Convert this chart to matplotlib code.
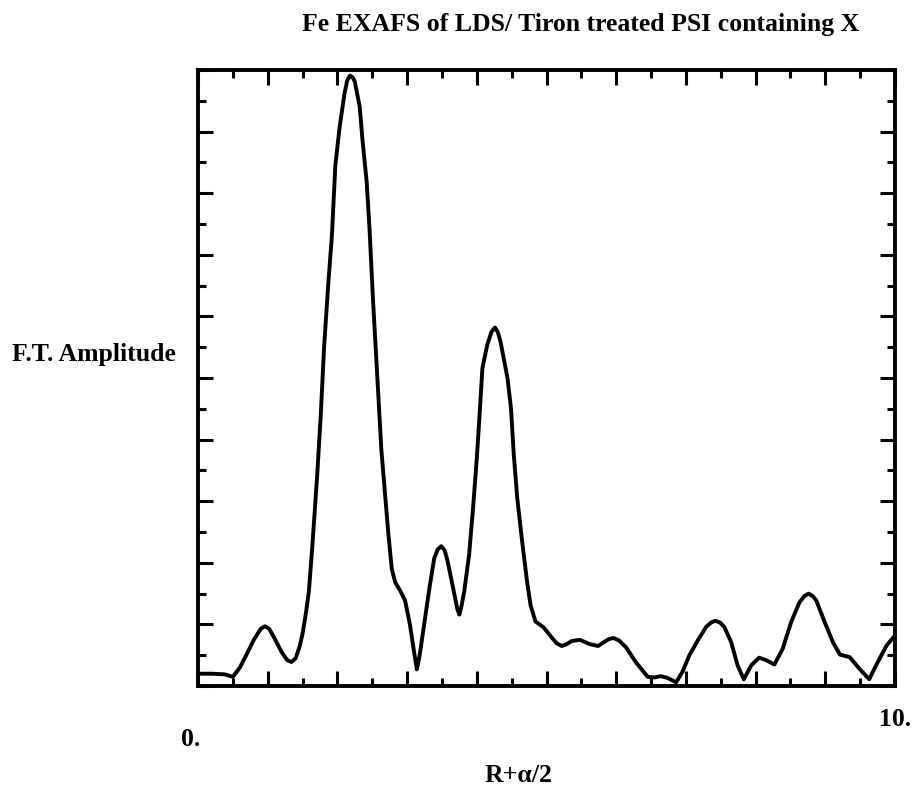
import numpy as np
import matplotlib
matplotlib.use('Agg')
import matplotlib.pyplot as plt
from matplotlib.ticker import MultipleLocator

# Values (x in R+alpha/2, amplitude in arbitrary units)
r_values = [0.00, 0.20, 0.38, 0.50, 0.60, 0.70, 0.80, 0.90, 0.96, 1.02,
            1.10, 1.20, 1.28, 1.34, 1.40, 1.46, 1.50, 1.55, 1.59, 1.64,
            1.71, 1.76, 1.81, 1.87, 1.92, 1.97, 2.03, 2.10, 2.14, 2.18,
            2.22, 2.25, 2.32, 2.36, 2.42, 2.46, 2.51, 2.57, 2.63, 2.70,
            2.73, 2.78, 2.83, 2.90, 2.97, 3.04, 3.10, 3.14, 3.18, 3.23,
            3.32, 3.39, 3.44, 3.49, 3.54, 3.58, 3.66, 3.72, 3.75, 3.78,
            3.82, 3.89, 3.95, 4.00, 4.04, 4.08, 4.15, 4.21, 4.26, 4.30,
            4.34, 4.44, 4.49, 4.53, 4.58, 4.65, 4.72, 4.77, 4.84, 4.96,
            5.08, 5.15, 5.22, 5.29, 5.36, 5.48, 5.62, 5.74, 5.82, 5.89,
            5.96, 6.04, 6.14, 6.28, 6.45, 6.55, 6.64, 6.74, 6.86, 6.95,
            7.05, 7.17, 7.29, 7.36, 7.42, 7.49, 7.55, 7.65, 7.74, 7.83,
            7.94, 8.05, 8.15, 8.27, 8.39, 8.51, 8.63, 8.70, 8.76, 8.82,
            8.87, 8.99, 9.11, 9.21, 9.35, 9.49, 9.63, 9.73, 9.88, 10.00]
amplitude = [0.20, 0.20, 0.19, 0.15, 0.30, 0.52, 0.75, 0.93, 0.97, 0.93,
             0.77, 0.55, 0.42, 0.39, 0.45, 0.65, 0.85, 1.20, 1.53, 2.27,
             3.43, 4.38, 5.53, 6.55, 7.30, 8.45, 9.06, 9.61, 9.83, 9.91,
             9.88, 9.81, 9.40, 8.86, 8.18, 7.43, 6.28, 5.06, 3.84, 2.89,
             2.48, 1.90, 1.68, 1.55, 1.39, 1.00, 0.55, 0.27, 0.50, 0.89,
             1.59, 2.08, 2.22, 2.27, 2.20, 2.03, 1.59, 1.25, 1.16, 1.30,
             1.54, 2.14, 2.95, 3.70, 4.41, 5.16, 5.54, 5.75, 5.82, 5.75,
             5.59, 5.00, 4.51, 3.76, 3.05, 2.35, 1.70, 1.32, 1.05, 0.95,
             0.78, 0.69, 0.65, 0.68, 0.73, 0.75, 0.68, 0.65, 0.71, 0.76,
             0.78, 0.74, 0.63, 0.39, 0.15, 0.14, 0.16, 0.13, 0.06, 0.23,
             0.50, 0.74, 0.96, 1.03, 1.06, 1.03, 0.96, 0.71, 0.34, 0.11,
             0.34, 0.46, 0.42, 0.35, 0.61, 1.04, 1.36, 1.46, 1.50, 1.46,
             1.39, 1.04, 0.71, 0.51, 0.47, 0.28, 0.11, 0.34, 0.66, 0.82]

title_text = 'Fe EXAFS of LDS/ Tiron treated PSI containing X'
x_label = 'R+\u03b1/2'
y_label = 'F.T. Amplitude'
x_tick_text = ['0.', '10.']

plt.rcParams['font.family'] = ['Liberation Serif', 'DejaVu Serif']
plt.rcParams['font.weight'] = 'bold'

fig = plt.figure(figsize=(9.13, 7.89), dpi=100)
ax = fig.add_axes([0.2169, 0.1305, 0.7634, 0.7807])

ax.plot(r_values, amplitude, color='black', linewidth=2.8, solid_joinstyle='round')

ax.set_xlim(0, 10)
ax.set_ylim(0, 10)

# Ticks on all four sides, pointing in, no numbers on them
ax.xaxis.set_major_locator(MultipleLocator(1))
ax.xaxis.set_minor_locator(MultipleLocator(0.5))
ax.yaxis.set_major_locator(MultipleLocator(1))
ax.yaxis.set_minor_locator(MultipleLocator(0.5))
ax.tick_params(which='both', direction='in', top=True, right=True,
               labelbottom=False, labelleft=False, width=2.2, color='black')
ax.tick_params(which='major', length=11)
ax.tick_params(which='minor', length=6)
for side in ax.spines.values():
    side.set_linewidth(2.8)

# Text placed where it sits on the original page
fig.text(302 / 913, 1 - 31 / 789, title_text, fontsize=18.5, ha='left', va='baseline')
fig.text(12 / 913, 1 - 355 / 789, y_label, fontsize=18.5, ha='left', va='center')
fig.text(191 / 913, 1 - 739 / 789, x_tick_text[0], fontsize=18.5, ha='center', va='center')
fig.text(895 / 913, 1 - 720 / 789, x_tick_text[1], fontsize=18.5, ha='center', va='center')
fig.text(519 / 913, 1 - 776 / 789, x_label, fontsize=18.5, ha='center', va='center')

fig.savefig('out.png', dpi=100)
